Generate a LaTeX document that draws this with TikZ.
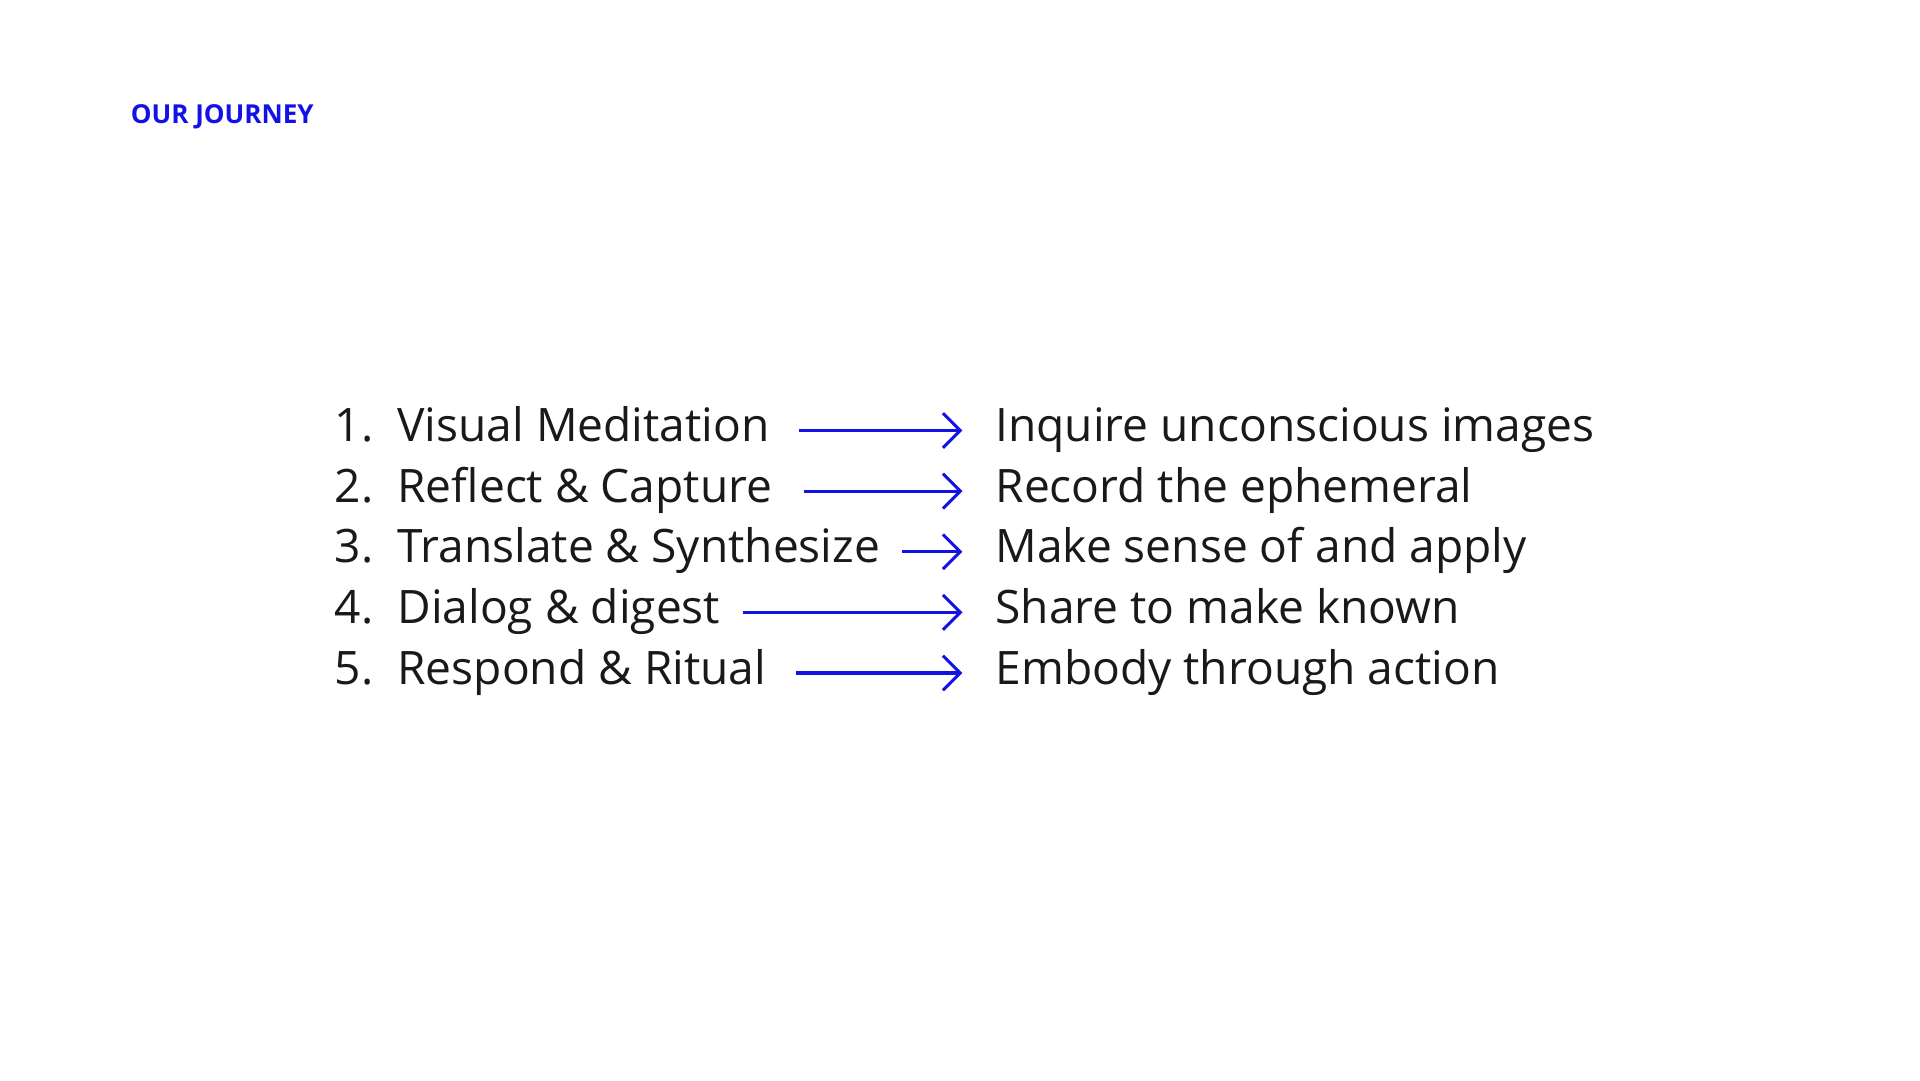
\documentclass[tikz,border=0pt]{standalone}
\usepackage{fontspec}
\setmainfont{Open Sans}
\usetikzlibrary{arrows.meta}
\definecolor{jblue}{HTML}{1212E6}
\begin{document}
\begin{tikzpicture}[x=0.01cm,y=-0.01cm,
  lft/.style={anchor=base west,inner sep=0pt,font=\fontsize{10.6}{12}\selectfont,text=black!90},
  rgt/.style={anchor=base west,inner sep=0pt,font=\fontsize{10.6}{12}\selectfont,text=black!90},
  arr/.style={draw=jblue,line width=0.7pt,-{Straight Barb[length=4pt,width=8pt,line width=0.7pt]}}]
\useasboundingbox (0,0) rectangle (1552,873);
\node[anchor=base west,inner sep=0pt,text=jblue,font=\fontsize{6}{7}\selectfont\bfseries] (title) at (105,100) {OUR JOURNEY};
\foreach \i/\l/\r/\g in {1/{1.\ \ Visual Meditation}/{Inquire unconscious images}/23,
  2/{2.\ \ Reflect \& Capture}/{Record the ephemeral}/25,
  3/{3.\ \ Translate \& Synthesize}/{Make sense of and apply}/17,
  4/{4.\ \ Dialog \& digest}/{Share to make known}/18,
  5/{5.\ \ Respond \& Ritual}/{Embody through action}/23}{
  \pgfmathsetmacro{\yy}{357+49*(\i-1)}
  \node[lft] (l\i) at (270,\yy) {\l};
  \node[rgt] (r\i) at (804,\yy) {\r};
  \coordinate (s\i) at ([xshift=\g*0.01cm,yshift=0.09cm]l\i.base east);
  \coordinate (e\i) at ([xshift=-0.26cm,yshift=0.09cm]r\i.base west);
  \draw[arr] (s\i) -- (e\i);
}
\end{tikzpicture}
\end{document}
